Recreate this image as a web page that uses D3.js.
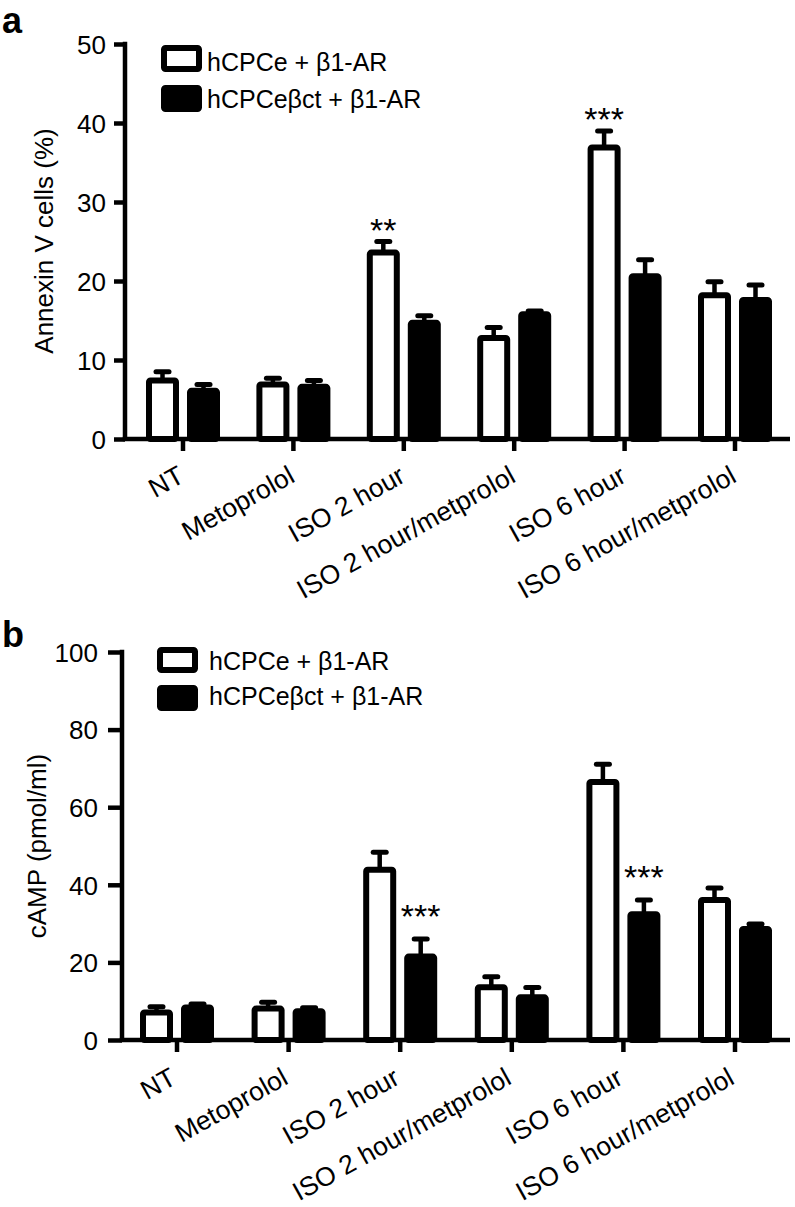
<!DOCTYPE html>
<html><head><meta charset="utf-8">
<script src="https://cdn.jsdelivr.net/npm/d3@7"></script>
<style>
body{margin:0;background:#fff}
svg{display:block}
text{font-family:"Liberation Sans",Arial,Helvetica,sans-serif;fill:#000}
</style>
</head><body>
<svg id="c" width="795" height="1207"></svg>
<script>
// ---- data ----
const categories = ["NT","Metoprolol","ISO 2 hour","ISO 2 hour/metprolol","ISO 6 hour","ISO 6 hour/metprolol"];
const seriesNames = ["hCPCe + β1-AR","hCPCeβct + β1-AR"];

const annexinWT    = [7.4, 6.9, 23.6, 12.8, 36.9, 18.2];
const annexinWTErr = [1.1, 0.8, 1.4, 1.3, 2.1, 1.7];
const annexinCT    = [6.1, 6.6, 14.7, 15.8, 20.6, 17.6];
const annexinCTErr = [0.8, 0.8, 0.9, 0.4, 2.1, 1.9];
const annexinTicks = [0, 10, 20, 30, 40, 50];
const annexinSigWT = ["", "", "**", "", "***", ""];
const annexinSigCT = ["", "", "", "", "", ""];

const campWT    = [7.1, 8.1, 43.9, 13.6, 66.5, 36.1];
const campWTErr = [1.5, 1.6, 4.5, 2.7, 4.6, 3.1];
const campCT    = [8.4, 7.4, 21.5, 11.0, 32.4, 28.6];
const campCTErr = [0.9, 0.9, 4.5, 2.5, 3.7, 1.3];
const campTicks = [0, 20, 40, 60, 80, 100];
const campSigWT = ["", "", "", "", "", ""];
const campSigCT = ["", "", "***", "", "***", ""];

const svg = d3.select("#c");
const SW = 4.5;

function drawPanel(o) {
  const g = svg.append("g");
  const y = d3.scaleLinear().domain([0, o.yMax]).range([o.y0, o.y1]);
  const x = d3.scaleBand().domain(categories).range(o.xRange).paddingInner(0).paddingOuter(0);
  const cx = c => x(c) + x.bandwidth() / 2;
  const half = 20.5, barW = 27, capHalf = 6.5;

  const series = [
    {vals: o.wt, errs: o.wtErr, sig: o.sigWT, off: -half, fill: "#fff"},
    {vals: o.ct, errs: o.ctErr, sig: o.sigCT, off: half, fill: "#000"}
  ];

  series.forEach(s => {
    const sg = g.append("g");
    sg.selectAll("line.stem").data(categories).join("line")
      .attr("x1", (c) => cx(c) + s.off).attr("x2", (c) => cx(c) + s.off)
      .attr("y1", (c, i) => y(s.vals[i])).attr("y2", (c, i) => y(s.vals[i] + s.errs[i]))
      .attr("stroke", "#000").attr("stroke-width", SW);
    sg.selectAll("line.cap").data(categories).join("line")
      .attr("x1", (c) => cx(c) + s.off - capHalf).attr("x2", (c) => cx(c) + s.off + capHalf)
      .attr("y1", (c, i) => y(s.vals[i] + s.errs[i])).attr("y2", (c, i) => y(s.vals[i] + s.errs[i]))
      .attr("stroke", "#000").attr("stroke-width", SW + 0.5).attr("stroke-linecap", "round");
    sg.selectAll("rect").data(categories).join("rect")
      .attr("x", c => cx(c) + s.off - barW / 2).attr("width", barW)
      .attr("y", (c, i) => y(s.vals[i])).attr("height", (c, i) => y(0) - y(s.vals[i]))
      .attr("fill", s.fill).attr("stroke", "#000").attr("stroke-width", 6)
      .attr("rx", 1.5);
    sg.selectAll("text").data(categories).join("text")
      .attr("x", c => cx(c) + s.off)
      .attr("y", (c, i) => y(s.vals[i] + s.errs[i]) - o.sigOff + 19)
      .attr("text-anchor", "middle").attr("font-size", 34)
      .text((c, i) => s.sig[i]);
  });

  const ya = g.append("g").attr("transform", `translate(${o.axisX},0)`)
    .call(d3.axisLeft(y).tickValues(o.ticks).tickSize(o.tickLen).tickPadding(o.tickPad).tickSizeOuter(0));
  ya.select(".domain").remove();
  ya.append("line").attr("x1", 0).attr("x2", 0).attr("y1", y(o.yMax) - SW / 2).attr("y2", y(0))
    .attr("stroke", "#000").attr("stroke-width", SW);
  ya.selectAll(".tick line").attr("stroke", "#000").attr("stroke-width", SW);
  ya.selectAll(".tick text").attr("font-size", 26).attr("font-family", null).attr("dy", "0.36em");

  const xa = g.append("g").attr("transform", `translate(0,${o.y0})`)
    .call(d3.axisBottom(x).tickSize(12).tickSizeOuter(0));
  xa.select(".domain").remove();
  xa.append("line").attr("x1", o.axisX - SW / 2).attr("x2", o.xEnd).attr("y1", 0).attr("y2", 0)
    .attr("stroke", "#000").attr("stroke-width", SW);
  xa.selectAll(".tick line").attr("stroke", "#000").attr("stroke-width", SW);
  xa.selectAll(".tick text").remove();
  xa.selectAll(".tick").append("text")
    .attr("transform", `translate(${o.lblDx},${o.lblDy}) rotate(-29)`)
    .attr("text-anchor", "end").attr("font-size", 26.5)
    .text(d => d);

  g.append("text").attr("transform", `translate(${o.titleX},${o.titleY}) rotate(-90)`)
    .attr("text-anchor", "middle").attr("font-size", o.titleSize).text(o.title);

  g.append("text").attr("x", 2).attr("y", o.labelY).attr("font-size", 36)
    .attr("font-weight", "bold").text(o.label);

  const lg = g.append("g");
  seriesNames.forEach((n, i) => {
    lg.append("rect").attr("x", o.legX + 3).attr("y", o.legY[i] + 3)
      .attr("width", 35).attr("height", o.legH - 6).attr("rx", 1.5)
      .attr("fill", i === 0 ? "#fff" : "#000").attr("stroke", "#000").attr("stroke-width", 6);
    lg.append("text").attr("x", o.legTextX).attr("y", o.legBase[i]).attr("font-size", 25).text(n);
  });
}

drawPanel({
  yMax: 50, y0: 439, y1: 44, xRange: [127.8, 790.2], axisX: 125, xEnd: 790,
  ticks: annexinTicks, tickLen: 11, tickPad: 8,
  wt: annexinWT, wtErr: annexinWTErr, ct: annexinCT, ctErr: annexinCTErr,
  sigWT: annexinSigWT, sigCT: annexinSigCT, sigOff: 19,
  lblDx: 3, lblDy: 42,
  title: "Annexin V cells (%)", titleX: 53, titleY: 241, titleSize: 26,
  label: "a", labelY: 33,
  legX: 161, legY: [45, 85], legH: 27, legTextX: 207, legBase: [71, 108]
});

drawPanel({
  yMax: 100, y0: 1040, y1: 652, xRange: [121.2, 790.8], axisX: 122, xEnd: 790,
  ticks: campTicks, tickLen: 14, tickPad: 10,
  wt: campWT, wtErr: campWTErr, ct: campCT, ctErr: campCTErr,
  sigWT: campSigWT, sigCT: campSigCT, sigOff: 30,
  lblDx: 1, lblDy: 43,
  title: "cAMP (pmol/ml)", titleX: 46, titleY: 846, titleSize: 26,
  label: "b", labelY: 647,
  legX: 157, legY: [647, 685], legH: 26, legTextX: 209, legBase: [670, 705]
});
</script>
</body></html>
